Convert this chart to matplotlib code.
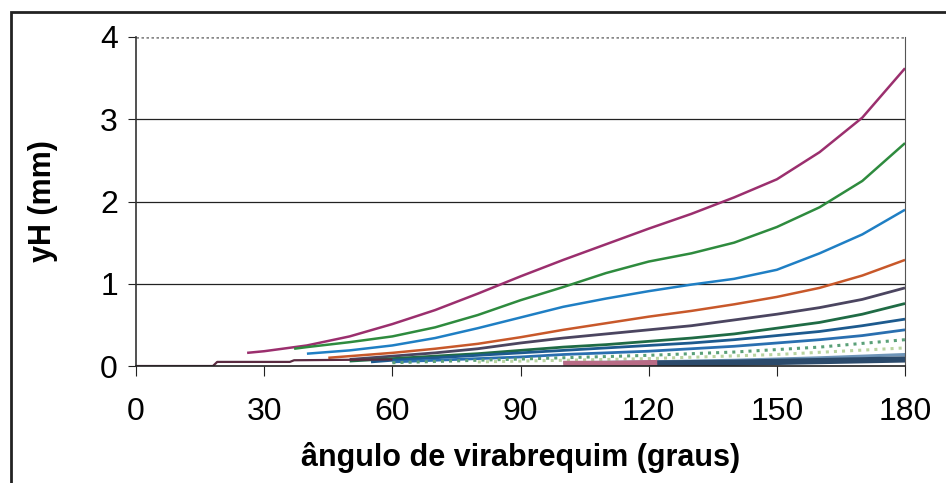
import numpy as np
import matplotlib.pyplot as plt
from matplotlib.patches import Rectangle

plt.rcParams['font.family'] = ['Liberation Sans', 'DejaVu Sans']

# curves: (angles, yH values)
ang1 = [26, 30, 40, 50, 60, 70, 80, 90, 100, 110, 120, 130, 140, 150, 160, 170, 180]
yh1 = [0.16, 0.18, 0.25, 0.36, 0.51, 0.68, 0.88, 1.09, 1.29, 1.48, 1.67, 1.85, 2.05, 2.27, 2.60, 3.02, 3.62]

ang2 = [37, 40, 50, 60, 70, 80, 90, 100, 110, 120, 130, 140, 150, 160, 170, 180]
yh2 = [0.21, 0.23, 0.29, 0.36, 0.47, 0.62, 0.80, 0.96, 1.13, 1.27, 1.37, 1.50, 1.69, 1.93, 2.25, 2.71]

ang3 = [40, 50, 60, 70, 80, 90, 100, 110, 120, 130, 140, 150, 160, 170, 180]
yh3 = [0.15, 0.19, 0.25, 0.34, 0.46, 0.59, 0.72, 0.82, 0.91, 0.99, 1.06, 1.17, 1.37, 1.60, 1.90]

ang4 = [45, 50, 60, 70, 80, 90, 100, 110, 120, 130, 140, 150, 160, 170, 180]
yh4 = [0.10, 0.12, 0.16, 0.21, 0.27, 0.35, 0.44, 0.52, 0.60, 0.67, 0.75, 0.84, 0.95, 1.10, 1.29]

ang5 = [50, 60, 70, 80, 90, 100, 110, 120, 130, 140, 150, 160, 170, 180]
yh5 = [0.08, 0.12, 0.16, 0.21, 0.28, 0.34, 0.39, 0.44, 0.49, 0.56, 0.63, 0.71, 0.81, 0.95]
yh6 = [0.06, 0.09, 0.12, 0.15, 0.19, 0.23, 0.26, 0.30, 0.34, 0.39, 0.46, 0.53, 0.63, 0.76]

ang7 = [55, 60, 70, 80, 90, 100, 110, 120, 130, 140, 150, 160, 170, 180]
yh7 = [0.05, 0.07, 0.10, 0.13, 0.16, 0.19, 0.22, 0.25, 0.28, 0.32, 0.37, 0.42, 0.49, 0.57]

ang8 = [60, 70, 80, 90, 100, 110, 120, 130, 140, 150, 160, 170, 180]
yh8 = [0.05, 0.07, 0.09, 0.11, 0.14, 0.16, 0.18, 0.21, 0.24, 0.28, 0.32, 0.37, 0.44]

ang9 = [60, 80, 100, 120, 140, 160, 180]
yh9 = [0.04, 0.07, 0.10, 0.13, 0.17, 0.23, 0.32]

ang10 = [80, 100, 120, 150, 180]
yh10 = [0.05, 0.07, 0.09, 0.14, 0.22]

ang11 = [100, 120, 140, 160, 180]
yh11 = [0.04, 0.05, 0.07, 0.10, 0.14]

ang12 = [120, 140, 160, 180]
yh12 = [0.03, 0.04, 0.06, 0.08]

ang13 = [100, 110, 122]
yh13 = [0.03, 0.03, 0.04]

ang14 = [0, 18, 19, 36, 37, 60]
yh14 = [0.0, 0.0, 0.05, 0.05, 0.07, 0.08]

curves = [
    (ang1, yh1, '#9b2f6e', '-', 1.8),
    (ang2, yh2, '#2e8b3e', '-', 1.8),
    (ang3, yh3, '#1f7fc4', '-', 1.8),
    (ang4, yh4, '#c8582a', '-', 1.8),
    (ang5, yh5, '#4b4560', '-', 2.0),
    (ang5, yh6, '#1f6b45', '-', 2.0),
    (ang7, yh7, '#1d5a8e', '-', 2.0),
    (ang8, yh8, '#2a6fb0', '-', 2.0),
    (ang9, yh9, '#5aa078', ':', 2.2),
    (ang10, yh10, '#b9d4a0', ':', 2.2),
    (ang11, yh11, '#6f95b8', '-', 2.2),
    (ang12, yh12, '#2b4a6b', '-', 4.5),
    (ang13, yh13, '#b86b85', '-', 4.0),
    (ang14, yh14, '#5a2a40', '-', 1.6),
]

fig = plt.figure(figsize=(9.46, 4.83), dpi=100)
ax = fig.add_axes([0.1438, 0.2422, 0.8129, 0.6812])

for y in [1, 2, 3]:
    ax.axhline(y, color='#222222', lw=0.9, zorder=1)
ax.axhline(4, color='#888888', lw=1.8, ls=(0, (1, 1)), zorder=1)

for a, v, c, ls, lw in curves:
    ax.plot(a, v, color=c, ls=ls, lw=lw, zorder=2, solid_capstyle='butt')

ax.set_xlim(0, 180)
ax.set_ylim(0, 4)
ax.set_xticks([0, 30, 60, 90, 120, 150, 180])
ax.set_yticks([0, 1, 2, 3, 4])
ax.tick_params(axis='both', direction='out', labelsize=23, color='#222222')
ax.tick_params(axis='y', length=6, pad=7)
ax.tick_params(axis='x', length=7, pad=15)

ax.spines['top'].set_visible(False)
ax.spines['right'].set_color('#555555')
ax.spines['right'].set_linestyle((0, (1, 1)))
ax.spines['left'].set_color('#333333')
ax.spines['left'].set_linewidth(1.2)
ax.spines['bottom'].set_color('#222222')
ax.spines['bottom'].set_linewidth(1.2)

ax.set_xlabel('ângulo de virabrequim (graus)', fontsize=22, fontweight='bold', labelpad=11)
ax.set_ylabel('yH (mm)', fontsize=22, fontweight='bold', labelpad=30)

# outer frame of the chart
fig.patches.append(Rectangle((11 / 946, -0.05), 1.0, 1 - 12 / 483 + 0.05,
                             transform=fig.transFigure, fill=False,
                             edgecolor='#222222', lw=2.0))

fig.savefig('out.png', dpi=100)
